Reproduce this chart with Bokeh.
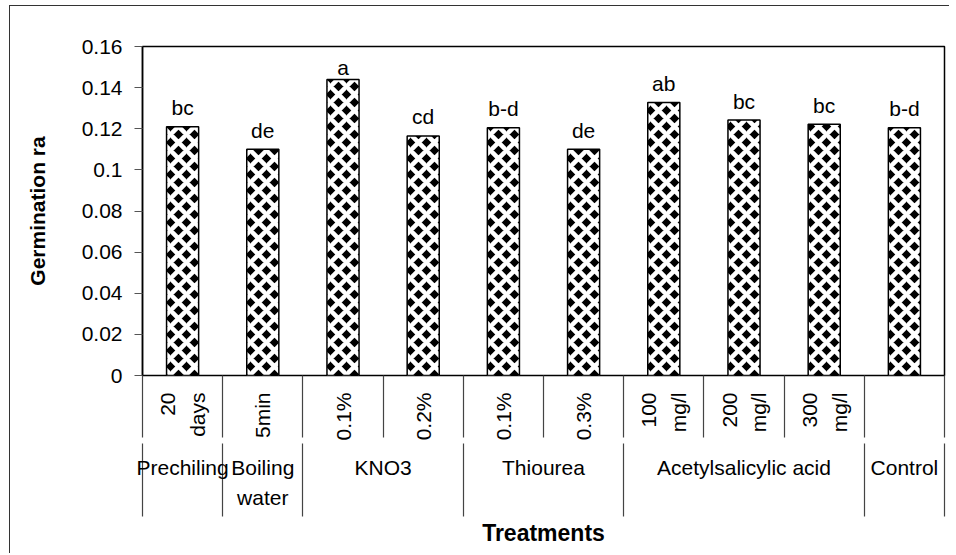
import numpy as np
from bokeh.plotting import figure
from bokeh.models import Range1d, FixedTicker, LinearAxis
from bokeh.core.properties import value
from bokeh.embed import file_html
from bokeh.resources import INLINE

# ---------------- data ----------------
treatments = ["Prechiling", "Boiling\nwater", "KNO3", "KNO3", "Thiourea", "Thiourea",
              "Acetylsalicylic acid", "Acetylsalicylic acid", "Acetylsalicylic acid", "Control"]
levels = ["20\ndays", "5min", "0.1%", "0.2%", "0.1%", "0.3%",
          "100\nmg/l", "200\nmg/l", "300\nmg/l", ""]
germination_rate = [0.121, 0.110, 0.144, 0.1165, 0.1205, 0.110, 0.1328, 0.1242, 0.1222, 0.1205]
letters = ["bc", "de", "a", "cd", "b-d", "de", "ab", "bc", "bc", "b-d"]
y_ticks = [0, 0.02, 0.04, 0.06, 0.08, 0.1, 0.12, 0.14, 0.16]
y_tick_labels = ["0", "0.02", "0.04", "0.06", "0.08", "0.1", "0.12", "0.14", "0.16"]

FONT = "Liberation Sans"
n = len(levels)
xc = [i + 0.5 for i in range(n)]

long_b = [0] + [i for i in range(1, n) if treatments[i] != treatments[i - 1]] + [n]
all_b = list(range(n + 1))
g_names = [treatments[s] for s in long_b[:-1]]
g_centers = [(a + b) / 2 for a, b in zip(long_b[:-1], long_b[1:])]

p = figure(width=940, height=548, x_range=Range1d(0, n), y_range=Range1d(0, 0.16),
           min_border_left=132, min_border_right=6, min_border_top=40, min_border_bottom=179,
           output_backend="svg", toolbar_location=None, margin=(6, 0, 0, 10),
           styles={"box-shadow": "-1px -1px 0 0 #333333"})
p.grid.visible = False
p.outline_line_color = "black"
p.outline_line_width = 1.5
p.background_fill_color = "white"
p.border_fill_color = "white"

p.vbar(x=xc, top=germination_rate, bottom=0, width=0.4,
       fill_color="black", line_color="black", line_width=1.5,
       hatch_pattern="diagonal_cross", hatch_color="white", hatch_scale=16, hatch_weight=4.5)

label_y = np.minimum(np.array(germination_rate), 0.1407)
p.text(x=xc, y=label_y, text=letters, text_align="center", text_baseline="alphabetic",
       y_offset=-19, text_font=value(FONT), text_font_size="21px", text_color="black")

ya = p.yaxis[0]
ya.ticker = FixedTicker(ticks=y_ticks)
ya.major_label_overrides = dict(zip(y_ticks, y_tick_labels))
ya.axis_label = "Germination ra"
ya.axis_label_text_font = FONT
ya.axis_label_text_font_style = "bold"
ya.axis_label_text_font_size = "21px"
ya.axis_label_text_color = "black"
ya.axis_label_standoff = 30
ya.major_label_text_font = FONT
ya.major_label_text_font_size = "21px"
ya.major_label_text_color = "black"
ya.major_label_standoff = 12
ya.major_tick_out = 8
ya.major_tick_in = 0
ya.minor_tick_out = 0
ya.minor_tick_in = 0
ya.major_tick_line_color = "#555555"
ya.axis_line_color = "black"
ya.axis_line_width = 1.5

SEP = "#444444"
SHORT_SEP = 62     # px below the x axis line
LONG_SEP = 138

# inner x axis: treatment levels (rotated), separators as minor ticks
xa = p.xaxis[0]
xa.ticker = FixedTicker(ticks=xc, minor_ticks=all_b)
xa.major_label_overrides = dict(zip(xc, levels))
xa.major_label_orientation = np.pi / 2
xa.major_label_text_font = FONT
xa.major_label_text_font_size = "21px"
xa.major_label_text_color = "black"
xa.major_label_text_line_height = 1.3
xa.major_label_standoff = 17 - SHORT_SEP
xa.major_tick_out = 0
xa.major_tick_in = 0
xa.minor_tick_out = SHORT_SEP
xa.minor_tick_in = 0
xa.minor_tick_line_color = SEP
xa.minor_tick_line_width = 1.2
xa.axis_line_color = None

# outer x axis: treatment groups, long separators, axis title
INNER = 65
xg = LinearAxis(ticker=FixedTicker(ticks=g_centers, minor_ticks=long_b),
                major_label_overrides=dict(zip(g_centers, g_names)),
                major_label_orientation="horizontal",
                major_label_text_font=FONT, major_label_text_font_size="21px",
                major_label_text_color="black", major_label_text_line_height=1.33,
                major_label_standoff=12 - (LONG_SEP - INNER),
                major_tick_out=0, major_tick_in=0,
                minor_tick_out=LONG_SEP - INNER, minor_tick_in=0,
                minor_tick_line_color=SEP, minor_tick_line_width=1.2,
                axis_line_color=None,
                axis_label="Treatments", axis_label_text_font=FONT,
                axis_label_text_font_style="bold", axis_label_text_font_size="23px",
                axis_label_text_color="black", axis_label_standoff=8)
p.add_layout(xg, "below")

open("out.html", "w").write(file_html(p, INLINE))
